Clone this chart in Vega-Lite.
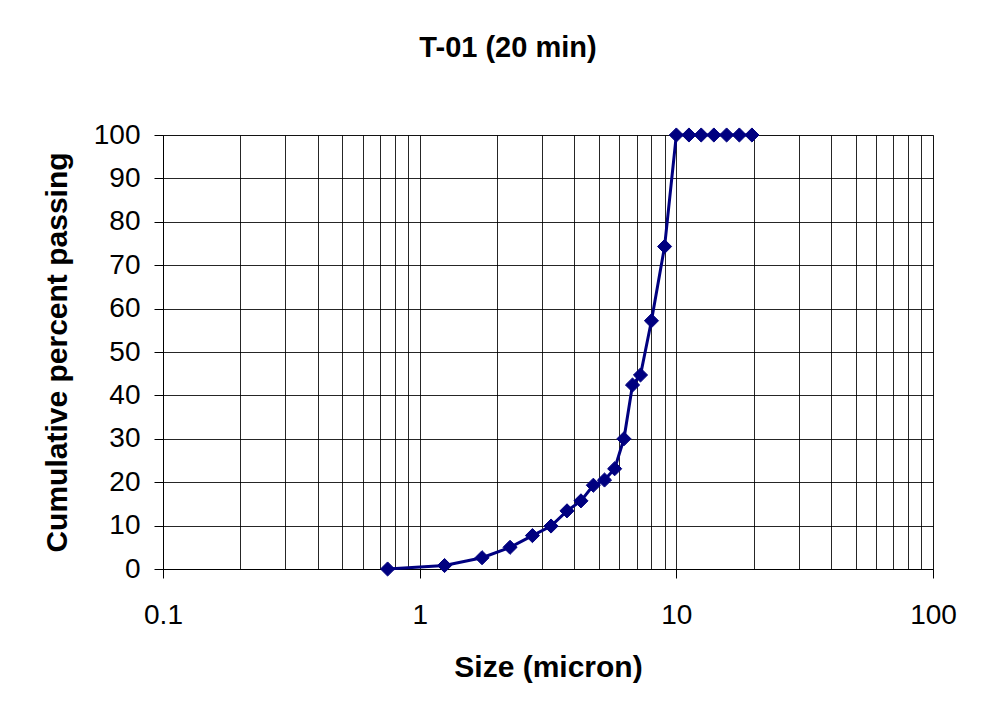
{
  "$schema": "https://vega.github.io/schema/vega-lite/v6.json",
  "autosize": "none",
  "width": 770,
  "height": 434,
  "padding": {"left": 163, "top": 135, "right": 52, "bottom": 141},
  "background": "white",
  "config": {
    "font": "Liberation Sans",
    "view": {"stroke": "#808080", "strokeWidth": 1}
  },
  "title": {
    "text": "T-01 (20 min)",
    "font": "Liberation Sans",
    "fontSize": 29,
    "fontWeight": "bold",
    "color": "black",
    "anchor": "middle",
    "dx": -40,
    "offset": 58
  },
  "data": {
    "values": [
      {"size": 0.75, "passing": 0},
      {"size": 1.25, "passing": 0.8},
      {"size": 1.75, "passing": 2.6},
      {"size": 2.25, "passing": 5.0},
      {"size": 2.75, "passing": 7.7},
      {"size": 3.25, "passing": 9.9},
      {"size": 3.75, "passing": 13.4},
      {"size": 4.25, "passing": 15.7},
      {"size": 4.75, "passing": 19.3},
      {"size": 5.25, "passing": 20.5},
      {"size": 5.75, "passing": 23.1},
      {"size": 6.25, "passing": 30.0},
      {"size": 6.75, "passing": 42.4},
      {"size": 7.25, "passing": 44.7},
      {"size": 8, "passing": 57.2},
      {"size": 9, "passing": 74.3},
      {"size": 10, "passing": 100},
      {"size": 11.2, "passing": 100},
      {"size": 12.5, "passing": 100},
      {"size": 14, "passing": 100},
      {"size": 15.7, "passing": 100},
      {"size": 17.6, "passing": 100},
      {"size": 19.7, "passing": 100}
    ]
  },
  "mark": {
    "type": "line",
    "color": "#000080",
    "strokeWidth": 3,
    "point": {"shape": "diamond", "size": 200, "filled": true, "color": "#000080", "stroke": "#000080", "strokeWidth": 1, "opacity": 1}
  },
  "encoding": {
    "x": {
      "field": "size",
      "type": "quantitative",
      "scale": {"type": "log", "domain": [0.1, 100], "nice": false},
      "axis": {
        "title": "Size (micron)",
        "titleFont": "Liberation Sans",
        "titleFontSize": 30,
        "titleFontWeight": "bold",
        "titleColor": "black",
        "titlePadding": 23,
        "values": [0.1, 0.2, 0.3, 0.4, 0.5, 0.6, 0.7, 0.8, 0.9, 1, 2, 3, 4, 5, 6, 7, 8, 9, 10, 20, 30, 40, 50, 60, 70, 80, 90, 100],
        "labelExpr": "indexof([0.1, 1, 10, 100], datum.value) >= 0 ? toString(datum.value) : ''",
        "labelFont": "Liberation Sans",
        "labelFontSize": 28,
        "labelColor": "black",
        "labelPadding": 23,
        "labelFlush": false,
        "labelOverlap": false,
        "tickSize": 9,
        "tickColor": "black",
        "tickOpacity": {"condition": {"test": "indexof([0.1, 1, 10, 100], datum.value) >= 0", "value": 1}, "value": 0},
        "domainColor": "black",
        "grid": true,
        "gridColor": "black",
        "gridOpacity": 0.85,
        "gridWidth": 1
      }
    },
    "y": {
      "field": "passing",
      "type": "quantitative",
      "scale": {"domain": [0, 100], "nice": false},
      "axis": {
        "title": "Cumulative percent passing",
        "titleFont": "Liberation Sans",
        "titleFontSize": 30,
        "titleFontWeight": "bold",
        "titleColor": "black",
        "titlePadding": 21,
        "values": [0, 10, 20, 30, 40, 50, 60, 70, 80, 90, 100],
        "labelFont": "Liberation Sans",
        "labelFontSize": 28,
        "labelColor": "black",
        "labelPadding": 14,
        "labelFlush": false,
        "tickSize": 9,
        "tickColor": "black",
        "domainColor": "black",
        "grid": true,
        "gridColor": "black",
        "gridOpacity": 0.85,
        "gridWidth": 1
      }
    }
  }
}
